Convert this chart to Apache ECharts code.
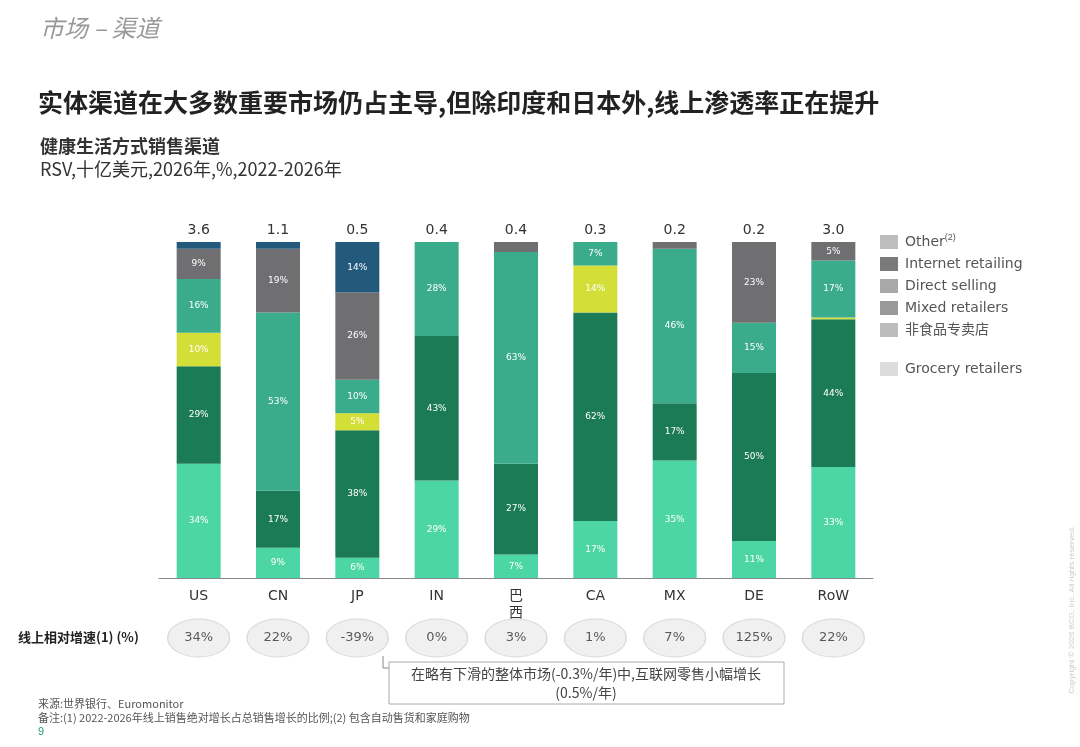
<!DOCTYPE html>
<html>
<head>
<meta charset="utf-8">
<script src="https://cdn.jsdelivr.net/npm/echarts@6/dist/echarts.min.js"></script>
<style>html,body{margin:0;padding:0;background:#fff}#c{width:1080px;height:747px}</style>
</head>
<body>
<div id="c"></div>
<script>
var categories = ['US', 'CN', 'JP', 'IN', '巴\n西', 'CA', 'MX', 'DE', 'RoW'];
var totals = ['3.6', '1.1', '0.5', '0.4', '0.4', '0.3', '0.2', '0.2', '3.0'];
var growth = ['34%', '22%', '-39%', '0%', '3%', '1%', '7%', '125%', '22%'];
// bottom to top
var grocery  = [34, 9, 6, 29, 7, 17, 35, 11, 33];
var nonFood  = [29, 17, 38, 43, 27, 62, 17, 50, 44];
var mixed    = [10, 0, 5, 0, 0, 14, 0, 0, 0.5];
var direct   = [16, 53, 10, 28, 63, 7, 46, 15, 17];
var internet = [9, 19, 26, 0, 3, 0, 2, 23, 5];
var other    = [2, 2, 14, 0, 0, 0, 0, 0, 0];

var names = ['Grocery retailers', '非食品专卖店', 'Mixed retailers', 'Direct selling', 'Internet retailing', 'Other'];
var colors = ['#4dd6a5', '#1b7b56', '#d3df36', '#3aac8c', '#6f6f72', '#235a7c'];
var datas = [grocery, nonFood, mixed, direct, internet, other];

// rounded shares don't always add to 100: give the remainder to the top segment
var plotted = datas.map(function (d) { return d.slice(); });
categories.forEach(function (c, j) {
  var sum = 0, top = 0;
  datas.forEach(function (d, i) { sum += d[j]; if (d[j] > 0) top = i; });
  plotted[top][j] += 100 - sum;
});

var chart = echarts.init(document.getElementById('c'));
var font = 'Verdana, "DejaVu Sans", "Noto Sans CJK SC", sans-serif';

var series = plotted.map(function (d, i) {
  return {
    name: names[i], type: 'bar', stack: 'a', data: d, barWidth: 44,
    xAxisIndex: 0, yAxisIndex: 0,
    itemStyle: {color: colors[i]},
    label: {show: true, color: '#fff', fontSize: 9, fontFamily: font,
      formatter: function (p) { var v = datas[i][p.dataIndex]; return v >= 5 ? v + '%' : ''; }}
  };
});
series.push({
  type: 'scatter', xAxisIndex: 2, yAxisIndex: 1, data: growth.map(function () { return 0; }),
  symbol: 'circle', symbolSize: [62, 38],
  itemStyle: {color: '#ececec', borderColor: '#d0d0d0', borderWidth: 1},
  label: {show: true, position: 'inside', color: '#333', fontSize: 13, fontFamily: font,
    formatter: function (p) { return growth[p.dataIndex]; }},
  silent: true
});

var legendItems = [['Other', 242], ['Internet retailing', 264], ['Direct selling', 286], ['Mixed retailers', 308], ['非食品专卖店', 330], ['Grocery retailers', 369]];
var legendColors = ['#bdbdbd', '#7a7a7a', '#a8a8a8', '#9a9a9a', '#bcbcbc', '#dcdcdc'];
var graphic = [
  {type: 'text', left: 40, top: 16, style: {text: '市场 – 渠道', fill: '#999', font: 'italic 24px "Noto Sans CJK SC", sans-serif'}},
  {type: 'text', left: 38, top: 90, style: {text: '实体渠道在大多数重要市场仍占主导,但除印度和日本外,线上渗透率正在提升', fill: '#222', font: 'bold 25px "Noto Sans CJK SC", sans-serif'}},
  {type: 'text', left: 40, top: 137, style: {text: '健康生活方式销售渠道', fill: '#333', font: 'bold 18px "Noto Sans CJK SC", sans-serif'}},
  {type: 'text', left: 40, top: 160, style: {text: 'RSV,十亿美元,2026年,%,2022-2026年', fill: '#333', font: '18px "Noto Sans CJK SC", sans-serif'}},
  {type: 'text', left: 18, top: 631, style: {text: '线上相对增速(1) (%)', fill: '#222', font: 'bold 13px "Noto Sans CJK SC", sans-serif'}},
  {type: 'line', shape: {x1: 383, y1: 656, x2: 383, y2: 668}, style: {stroke: '#888'}},
  {type: 'line', shape: {x1: 383, y1: 668, x2: 389, y2: 668}, style: {stroke: '#888'}},
  {type: 'rect', shape: {x: 389, y: 662, width: 395, height: 42}, style: {fill: '#fff', stroke: '#aaa'}},
  {type: 'text', x: 586, y: 683, style: {text: '在略有下滑的整体市场(-0.3%/年)中,互联网零售小幅增长\n(0.5%/年)', fill: '#444', align: 'center', verticalAlign: 'middle', lineHeight: 19, font: '14px "Noto Sans CJK SC", sans-serif'}},
  {type: 'text', left: 38, top: 697, style: {text: '来源:世界银行、Euromonitor\n备注:(1) 2022-2026年线上销售绝对增长占总销售增长的比例;(2) 包含自动售货和家庭购物', fill: '#555', lineHeight: 14, font: '11px "Noto Sans CJK SC", sans-serif'}},
  {type: 'text', left: 38, top: 726, style: {text: '9', fill: '#2a9d6a', font: '11px sans-serif'}},
  {type: 'text', x: 1068, y: 610, rotation: Math.PI / 2, style: {text: 'Copyright © 2026 BCG, Inc. All rights reserved.', fill: '#ccc', align: 'center', font: '8px sans-serif'}}
];
legendItems.forEach(function (it, i) {
  graphic.push({type: 'rect', shape: {x: 880, y: it[1] - 7, width: 18, height: 14}, style: {fill: legendColors[i]}});
  graphic.push({type: 'text', x: 905, y: it[1], style: {text: it[0] + (i === 0 ? '{s|(2)}' : ''), fill: '#555', verticalAlign: 'middle', font: '14px ' + font, rich: {s: {fontSize: 9, verticalAlign: 'top', padding: [0, 0, 8, 0], fill: '#555'}}}});
});

chart.setOption({
  animation: false,
  grid: [
    {left: 159, width: 714, top: 242, height: 336},
    {left: 159, width: 714, top: 618, height: 40}
  ],
  xAxis: [
    {type: 'category', gridIndex: 0, data: categories, axisTick: {show: false},
      axisLine: {lineStyle: {color: '#888'}},
      axisLabel: {color: '#333', fontSize: 14, fontFamily: font, margin: 10, lineHeight: 17}},
    {type: 'category', gridIndex: 0, position: 'top', data: totals, axisTick: {show: false},
      axisLine: {show: false}, axisLabel: {color: '#333', fontSize: 14, fontFamily: font, margin: 5}},
    {type: 'category', gridIndex: 1, data: categories, show: false}
  ],
  yAxis: [
    {type: 'value', gridIndex: 0, min: 0, max: 100, show: false},
    {type: 'value', gridIndex: 1, min: -1, max: 1, show: false}
  ],
  series: series,
  graphic: graphic
});
</script>
</body>
</html>
